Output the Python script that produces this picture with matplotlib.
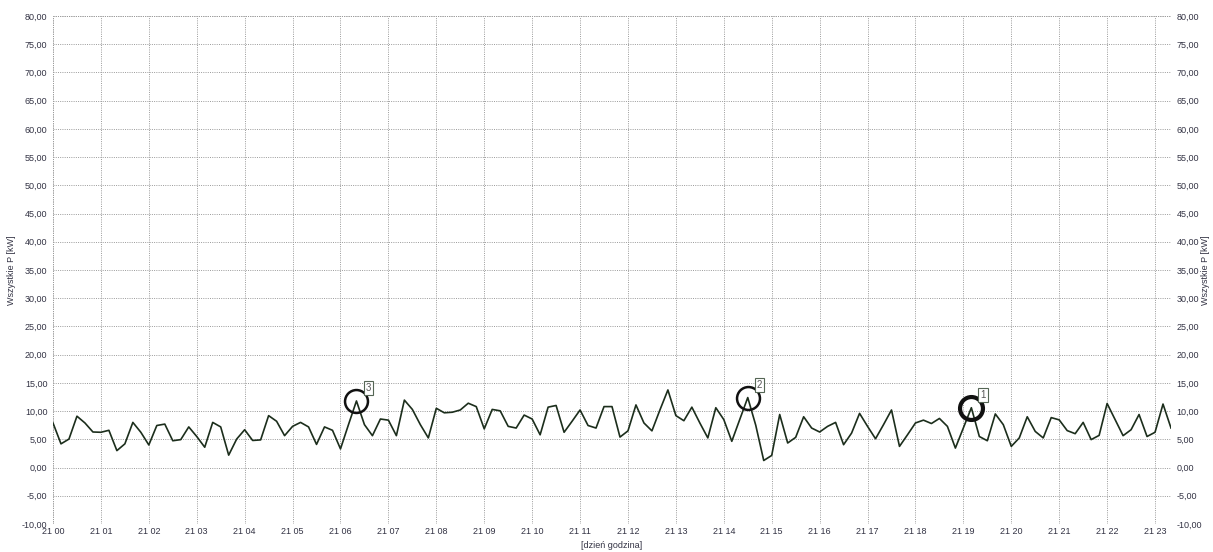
import numpy as np
import matplotlib
matplotlib.use('Agg')
from matplotlib import pyplot as plt
from matplotlib.ticker import FuncFormatter

# power readings every 10 minutes, day 21, from 00:00 to 23:20
power = [7.9, 4.2, 5.05, 9.1, 7.9, 6.3, 6.25, 6.6, 3.0, 4.2, 8.0, 6.25, 4.0, 7.45,
         7.7, 4.75, 4.95, 7.2, 5.5, 3.6, 8.0, 7.2, 2.2, 5.05, 6.7, 4.8, 4.9,
         9.2, 8.2, 5.65, 7.3, 8.0, 7.2, 4.1, 7.2, 6.6, 3.3, 7.6, 11.8, 7.6, 5.65,
         8.6, 8.4, 5.65, 11.95, 10.3, 7.6, 5.25, 10.5, 9.7, 9.8, 10.2,
         11.4, 10.8, 6.85, 10.3, 10.05, 7.3, 7.0, 9.3, 8.6, 5.8, 10.7, 11.0, 6.25,
         8.2, 10.2, 7.45, 7.0, 10.8, 10.8, 5.4, 6.5, 11.1, 7.9, 6.5, 10.2,
         13.75, 9.2, 8.3, 10.7, 7.9, 5.25, 10.6, 8.5, 4.65, 8.5, 12.4, 7.5, 1.25,
         2.15, 9.4, 4.35, 5.35, 9.0, 7.0, 6.3, 7.3, 8.0, 4.05, 6.1, 9.6,
         7.3, 5.1, 7.6, 10.2, 3.75, 5.8, 7.9, 8.4, 7.8, 8.7, 7.3, 3.45, 7.0, 10.6,
         5.5, 4.75, 9.5, 7.6, 3.75, 5.25, 9.0, 6.4, 5.25, 8.85, 8.45,
         6.55, 6.0, 8.0, 4.95, 5.7, 11.35, 8.5, 5.65, 6.7, 9.4, 5.5, 6.25, 11.25, 7.0]
step_min = 10
hours = np.arange(len(power)) * step_min / 60.0

# marked peaks: sample index and label
peak_idx = [115, 87, 38]
peak_lbl = ['1', '2', '3']

hour_ticks = list(range(24))
hour_labels = ['21 %02d' % h for h in hour_ticks]
y_ticks = list(range(-10, 81, 5))

plt.rcParams['font.family'] = ['Liberation Sans', 'DejaVu Sans']
fig = plt.figure(figsize=(12.13, 5.52), dpi=100)
ax = fig.add_axes([53/1213, 1-524/552, (1171-53)/1213, (524-16)/552])

ax.plot(hours, power, color='#1c2e1c', lw=1.2, zorder=3)

p = np.array(power)
for i, lb in zip(peak_idx, peak_lbl):
    thick = 3.0 if lb == '1' else 1.8
    ax.plot(hours[i], p[i], 'o', ms=16.5, mfc='none', mec='#111111', mew=thick, zorder=4)
    ax.annotate(lb, (hours[i], p[i]), xytext=(6.5, 5.5), textcoords='offset points',
                fontsize=7, color='#555555', ha='left', va='bottom', zorder=5,
                bbox=dict(boxstyle='square,pad=0.2', fc='white', ec='#556655', lw=0.8))

gcol = '#9a9a9a'
gls = (0, (1, 1.3))
ax.set_xlim(0, hours[-1])
ax.set_ylim(-10, 80)
ax.set_xticks(hour_ticks)
ax.set_xticklabels(hour_labels)
ax.set_yticks(y_ticks)
ax.yaxis.set_major_formatter(FuncFormatter(lambda v, pos: ('%.2f' % v).replace('.', ',')))
ax.tick_params(length=0, labelsize=6.5, labelcolor='#333344', labelright=True, pad=4)
ax.tick_params(axis='x', pad=2)
ax.grid(True, color=gcol, ls=gls, lw=0.7)
for s in ax.spines.values():
    s.set_visible(False)
# dotted frame on the outer edges
for v in (0, hours[-1]):
    ax.axvline(v, color=gcol, ls=gls, lw=0.7)
for v in (-10, 80):
    ax.axhline(v, color=gcol, ls=gls, lw=0.7)

fig.text(12/1213, 1-270/552, 'Wszystkie P [kW]', rotation=90, fontsize=6.5,
         color='#333344', ha='center', va='center')
fig.text(1205/1213, 1-270/552, 'Wszystkie P [kW]', rotation=90, fontsize=6.5,
         color='#333344', ha='center', va='center')
fig.text(612/1213, 1-546/552, '[dzień godzina]', fontsize=6.5, color='#333344',
         ha='center', va='center')

fig.savefig('out.png', dpi=100, facecolor='white')
